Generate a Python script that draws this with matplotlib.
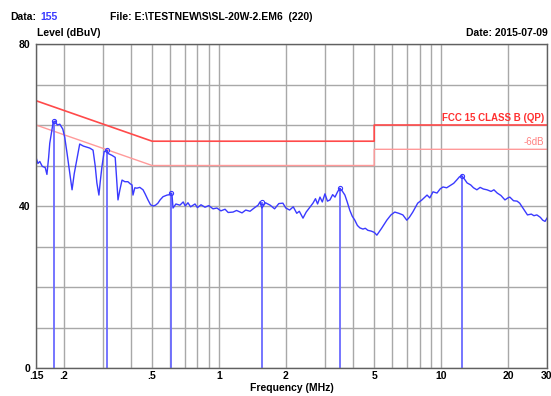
import matplotlib.pyplot as plt
from matplotlib.ticker import FixedLocator, NullFormatter

# Measured trace (MHz, dBuV)
freq = [0.150, 0.153, 0.156, 0.160, 0.165, 0.168, 0.171, 0.173, 0.176, 0.179,
        0.183, 0.187, 0.192, 0.198, 0.202, 0.207, 0.213, 0.218, 0.223, 0.229,
        0.236, 0.245, 0.255, 0.262, 0.271, 0.277, 0.282, 0.288, 0.292, 0.297,
        0.304, 0.313, 0.316, 0.330, 0.341, 0.345, 0.348, 0.351, 0.358, 0.366,
        0.377, 0.389, 0.398, 0.406, 0.410, 0.418, 0.427, 0.440, 0.455, 0.465,
        0.479, 0.492, 0.505, 0.518, 0.531, 0.543, 0.560, 0.584, 0.600, 0.608,
        0.614, 0.621, 0.640, 0.667, 0.690, 0.705, 0.725, 0.745, 0.780, 0.800,
        0.830, 0.865, 0.900, 0.940, 0.979, 1.02, 1.065, 1.10, 1.157, 1.20,
        1.27, 1.32, 1.38, 1.44, 1.50, 1.53, 1.56, 1.62, 1.70, 1.78,
        1.86, 1.94, 2.00, 2.08, 2.16, 2.24, 2.30, 2.39, 2.47, 2.55,
        2.65, 2.72, 2.78, 2.85, 2.92, 3.00, 3.08, 3.16, 3.25, 3.33,
        3.42, 3.50, 3.58, 3.69, 3.78, 3.88, 3.98, 4.09, 4.20, 4.31,
        4.45, 4.56, 4.68, 4.85, 5.00, 5.14, 5.40, 5.70, 5.95, 6.19,
        6.45, 6.73, 7.01, 7.20, 7.46, 7.85, 8.20, 8.65, 8.90, 9.20,
        9.59, 9.90, 10.2, 10.6, 10.95, 11.4, 11.8, 12.1, 12.4, 12.8,
        13.1, 13.6, 14.0, 14.5, 15.0, 15.5, 16.1, 16.8, 17.3, 17.9,
        18.6, 19.4, 20.0, 20.4, 21.2, 22.0, 22.6, 23.5, 24.5, 25.5,
        26.2, 27.0, 28.0, 28.7, 29.4, 30.0]
level = [52.0, 50.5, 51.0, 49.8, 49.5, 47.8, 52.0, 55.5, 58.0, 60.5,
         61.0, 60.0, 60.2, 59.0, 57.0, 53.0, 48.0, 44.0, 48.0, 51.4,
         55.3, 54.8, 54.5, 54.3, 53.8, 50.0, 45.7, 42.7, 46.0, 49.6,
         53.4, 53.8, 53.0, 52.5, 52.0, 48.0, 44.7, 41.5, 44.0, 46.4,
         46.0, 46.0, 45.5, 45.2, 42.7, 44.5, 44.4, 44.6, 44.0, 43.0,
         41.5, 40.3, 40.0, 40.2, 40.7, 41.5, 42.3, 42.7, 42.8, 43.2,
         43.0, 39.5, 40.5, 40.2, 41.0, 40.0, 40.8, 39.8, 40.5, 39.6,
         40.3, 39.7, 40.1, 39.3, 39.5, 38.8, 39.2, 38.4, 38.5, 38.9,
         38.3, 39.0, 38.7, 39.5, 40.2, 41.0, 39.5, 40.8, 40.2, 39.3,
         40.6, 40.7, 39.5, 39.0, 39.8, 38.2, 38.7, 37.0, 38.5, 39.5,
         40.7, 41.8, 40.5, 42.2, 41.0, 43.0, 41.2, 41.5, 42.8, 42.2,
         43.5, 44.4, 43.8, 42.7, 41.0, 39.0, 37.5, 36.5, 35.2, 34.6,
         34.3, 34.5, 34.0, 33.8, 33.5, 32.8, 34.5, 36.5, 37.8, 38.5,
         38.2, 37.8, 36.5, 37.2, 38.5, 40.7, 41.5, 42.7, 42.0, 43.5,
         43.2, 44.2, 44.7, 44.5, 45.0, 45.6, 46.5, 47.2, 47.5, 46.5,
         45.7, 45.2, 44.5, 44.0, 44.6, 44.2, 44.0, 43.6, 44.0, 43.2,
         42.6, 41.5, 42.0, 42.2, 41.3, 41.2, 40.7, 39.3, 37.8, 38.0,
         37.6, 37.8, 37.2, 36.5, 36.2, 37.0]

# Peak markers
peak_freq = [0.181, 0.313, 0.608, 1.56, 3.52, 12.4]
peak_level = [61.0, 53.8, 43.2, 41.0, 44.5, 47.5]

# FCC 15 class B (QP) limit and -6 dB line
limit_freq = [0.15, 0.5, 5.0, 5.0, 30.0]
limit_qp = [66, 56, 56, 60, 60]
limit_6db = [60, 50, 50, 54, 54]

x_ticks = [0.15, 0.2, 0.5, 1, 2, 5, 10, 20, 30]
x_labels = ['.15', '.2', '.5', '1', '2', '5', '10', '20', '30']
x_minor = [0.3, 0.4, 0.6, 0.7, 0.8, 0.9, 3, 4, 6, 7, 8, 9]

plt.rcParams['font.family'] = ['Liberation Sans', 'DejaVu Sans']

fig = plt.figure(figsize=(5.51, 3.96), dpi=100)
ax = fig.add_axes([36 / 551, 1 - 368 / 396, 511 / 551, 324 / 396])

ax.set_xscale('log')
ax.set_xlim(0.15, 30)
ax.set_ylim(0, 80)

# grid
ax.xaxis.set_major_locator(FixedLocator(x_ticks))
ax.xaxis.set_minor_locator(FixedLocator(x_minor))
ax.xaxis.set_minor_formatter(NullFormatter())
ax.set_xticklabels(x_labels)
ax.yaxis.set_major_locator(FixedLocator([0, 40, 80]))
ax.yaxis.set_minor_locator(FixedLocator([10, 20, 30, 50, 60, 70]))
ax.grid(True, which='both', color='#a8a8a8', linewidth=1.0)
ax.tick_params(which='both', length=0, labelsize=7.5)
ax.tick_params(axis='x', pad=2.5)
ax.tick_params(axis='y', pad=4)
for lab in ax.get_xticklabels() + ax.get_yticklabels():
    lab.set_fontweight('bold')
for sp in ax.spines.values():
    sp.set_color('#606060')
    sp.set_linewidth(1.0)

# limit lines
ax.plot(limit_freq, limit_6db, color='#ff9a9a', linewidth=1.0)
ax.plot(limit_freq, limit_qp, color='#ff4a4a', linewidth=1.2)
ax.text(29.2, 60.6, 'FCC 15 CLASS B (QP)', color='#ff3030', fontsize=7,
        fontweight='bold', ha='right', va='bottom')
ax.text(29.2, 54.6, '-6dB', color='#ff8080', fontsize=7,
        ha='right', va='bottom')

# trace and peak markers
ax.vlines(peak_freq, 0, peak_level, color='#6a6aff', linewidth=1.3)
ax.plot(freq, level, color='#3a3aff', linewidth=1.0)
ax.plot(peak_freq, peak_level, 'o', ms=3, mfc='none', mec='#3a3aff', mew=0.8)

# header texts
fig.text(10 / 551, 1 - 17 / 396, 'Data:', fontsize=7.5, fontweight='bold', va='center')
fig.text(40 / 551, 1 - 17 / 396, '155', fontsize=7.5, fontweight='bold',
         color='#3a3aff', va='center')
fig.text(110 / 551, 1 - 17 / 396, 'File: E:\\TESTNEW\\S\\SL-20W-2.EM6  (220)',
         fontsize=7.5, fontweight='bold', va='center')
fig.text(37 / 551, 1 - 33 / 396, 'Level (dBuV)', fontsize=7.5, fontweight='bold', va='center')
fig.text(548 / 551, 1 - 33 / 396, 'Date: 2015-07-09', fontsize=7.5,
         fontweight='bold', va='center', ha='right')
fig.text(292 / 551, 1 - 388 / 396, 'Frequency (MHz)', fontsize=7.5,
         fontweight='bold', va='center', ha='center')

fig.savefig('out.png', dpi=100)
